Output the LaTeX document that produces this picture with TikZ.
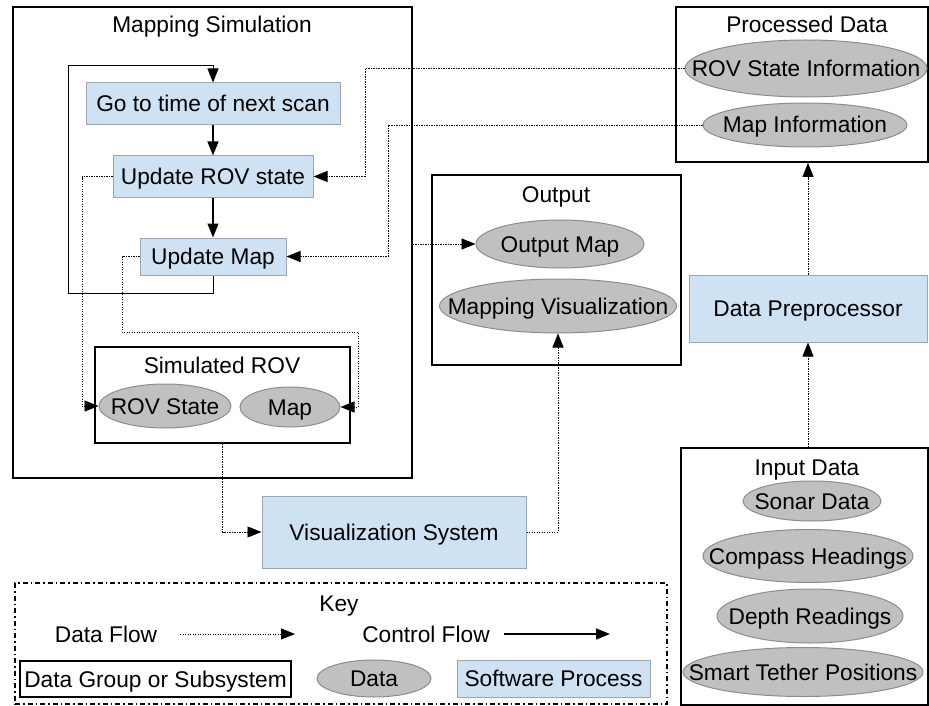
\documentclass[tikz,border=0pt]{standalone}
\usepackage{fontspec}
\setmainfont{Liberation Sans}
\usetikzlibrary{arrows.meta,shapes.geometric}
\definecolor{procblue}{HTML}{CFE2F3}
\definecolor{procedge}{HTML}{9AA7B2}
\definecolor{datagray}{HTML}{C0C0C0}
\definecolor{dataedge}{HTML}{8C8C8C}
\tikzset{
  every node/.style={font=\fontsize{22.7}{27}\selectfont, text height=16.5pt, text depth=0.5pt, inner sep=0pt},
  sz/.style 2 args={minimum width=#1pt, minimum height=#2pt},
  group/.style={draw=black, line width=1.8pt, rectangle},
  proc/.style={draw=procedge, fill=procblue, line width=1pt, rectangle},
  dataell/.style={draw=dataedge, fill=datagray, line width=1pt, ellipse},
  keybox/.style={draw=black, line width=1.5pt, dash pattern=on 5pt off 3pt on 1.5pt off 3pt, rectangle},
  ctrl/.style={draw=black, line width=1.3pt, -{Triangle[length=14pt,width=11pt]}},
  data/.style={draw=black, line width=0.9pt, dash pattern=on 1.2pt off 1.3pt, -{Triangle[length=14pt,width=11pt]}}
}
\begin{document}
\begin{tikzpicture}[x=1pt,y=-1pt]
\useasboundingbox (0,0) rectangle (929,706);

% Mapping Simulation
\node[group, sz={399}{471}] (ms) at (212.5,242.5) {};
\node (mst) at (212,25) {Mapping Simulation};
\node[proc, sz={254}{42}] (go) at (213,104) {Go to time of next scan};
\node[proc, sz={200}{41}] (urs) at (213,176.5) {Update ROV state};
\node[proc, sz={146}{37}] (um) at (213,256.5) {Update Map};
\node[group, sz={255}{96}] (sr) at (222.5,395) {};
\node (srt) at (222,365) {Simulated ROV};
\node[dataell, sz={132}{44}, label=center:ROV State] (rovs) at (165,406) {};
\node[dataell, sz={100}{40}, label=center:Map] (mapd) at (290,407) {};

% Output
\node[group, sz={249}{190}] (out) at (556.5,270) {};
\node (outt) at (556,194) {Output};
\node[dataell, sz={168}{48}, label=center:Output Map] (om) at (560,244) {};
\node[dataell, sz={237}{54}, label=center:Mapping Visualization] (mv) at (558,306) {};

% Processed Data
\node[group, sz={252}{155}] (pd) at (802,84.5) {};
\node (pdt) at (807,25) {Processed Data};
\node[dataell, sz={242}{57}, label=center:ROV State Information] (rsi) at (806,68.5) {};
\node[dataell, sz={204}{44}, label=center:Map Information] (mi) at (805,125) {};

% Data Preprocessor
\node[proc, sz={238}{67}] (dp) at (808,308.5) {Data Preprocessor};

% Input Data
\node[group, sz={247}{257}] (id) at (804.5,576.5) {};
\node (idt) at (807,467) {Input Data};
\node[dataell, sz={138}{40}, label=center:Sonar Data] (son) at (812,501) {};
\node[dataell, sz={210}{53}, label=center:Compass Headings] (comp) at (808,556) {};
\node[dataell, sz={186}{54}, label=center:Depth Readings] (dep) at (810,616) {};
\node[dataell, sz={240}{49}, label=center:Smart Tether Positions] (stp) at (803,672) {};

% Visualization System
\node[proc, sz={264}{72}] (vis) at (394,532) {Visualization System};

% Key
\node[keybox, sz={652}{121}] (key) at (341,643.5) {};
\node (keyt) at (339,603) {Key};
\node (kdf) at (106,634) {Data Flow};
\coordinate (kda) at (180,634);
\coordinate (kdb) at (295,634);
\node (kcf) at (426,634) {Control Flow};
\coordinate (kca) at (504,634);
\coordinate (kcb) at (610,634);
\node[group, line width=1.5pt, sz={271}{36}] (kg) at (155.5,679) {Data Group or Subsystem};
\node[dataell, sz={114}{37}, label=center:Data] (kd) at (374,678.5) {};
\node[proc, sz={193}{37}] (kp) at (553.5,678.5) {Software Process};
\draw[data] (kda) -- (kdb);
\draw[ctrl] (kca) -- (kcb);

% Control flow
\draw[ctrl] (go.south) -- (urs.north);
\draw[ctrl] (urs.south) -- (um.north);
\coordinate (lpB) at (68,293);
\coordinate (lpT) at (68,66);
\draw[ctrl, line width=1pt] (um.south) |- (lpB) -- (lpT) -| (go.north);

% Data flow
\coordinate (c1) at (365,68.5);
\draw[data] (rsi.west) -- (c1) |- (urs.east);
\coordinate (c2) at (388,125);
\draw[data] (mi.west) -- (c2) |- (um.east);
\coordinate (c3) at (82,176.5);
\draw[data] (urs.west) -- (c3) |- (rovs.west);
\coordinate (c4) at (122,332);
\coordinate (c5) at (358,407);
\draw[data] (um.west) -| (c4) -| (c5) -- (mapd.east);
\draw[data] (ms.east |- om.west) -- (om.west);
\draw[data] (sr.south) |- (vis.west);
\draw[data] (vis.east) -| (mv.south);
\draw[data] (dp.north) -- (dp.north |- pd.south);
\draw[data] (id.north -| dp.south) -- (dp.south);
\end{tikzpicture}
\end{document}
